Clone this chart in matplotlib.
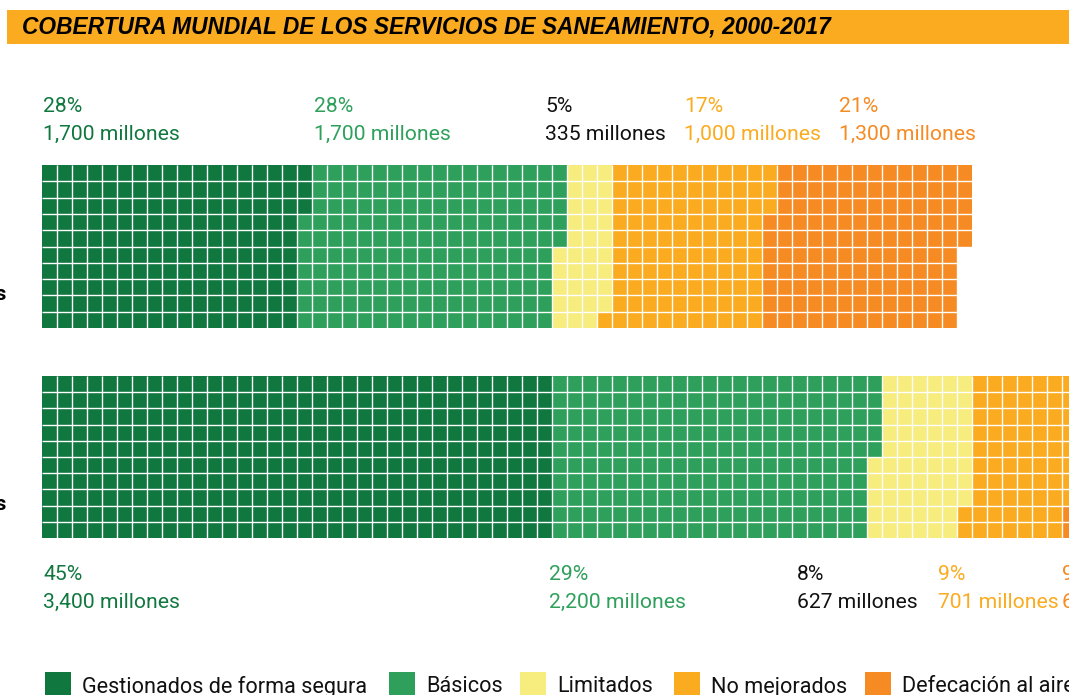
import matplotlib.pyplot as plt
from matplotlib.patches import Rectangle

# cada cuadro = 10 millones de personas
categorias = ['Gestionados de forma segura', 'Básicos', 'Limitados',
              'No mejorados', 'Defecación al aire libre']
colores = ['#10773f', '#2ea05b', '#f7ec7e', '#faab1f', '#f68a23']
colores_texto = ['#10773f', '#2ea05b', '#111111', '#faab1f', '#f68a23']

cuadros_2000 = [173, 172, 34, 104, 132]
cuadros_2017 = [340, 215, 63, 70, 67]

pct_2000 = ['28%', '28%', '5%', '17%', '21%']
pob_2000 = ['1,700 millones', '1,700 millones', '335 millones',
            '1,000 millones', '1,300 millones']
pct_2017 = ['45%', '29%', '8%', '9%', '9%']
pob_2017 = ['3,400 millones', '2,200 millones', '627 millones',
            '701 millones', '673 millones']

W, H = 1069, 695
CW = 15          # ancho de columna en px
X0 = 42          # borde izquierdo de la cuadrícula


def fx(x):
    return x / W


def fy(y):
    return 1 - y / H


def waffle(fig, top, bottom, cuadros):
    ax = fig.add_axes([0, fy(bottom), 1, (bottom - top) / H])
    ax.set_xlim(-X0 / CW, (W - X0) / CW)
    ax.set_ylim(10, 0)
    ax.axis('off')
    k = 0
    for n, c in zip(cuadros, colores):
        for i in range(n):
            col, fila = divmod(k, 10)
            ax.add_patch(Rectangle((col, fila), 1, 1, facecolor=c,
                                   edgecolor='none'))
            k += 1
    ncol = (k + 9) // 10
    ax.vlines(range(1, ncol), 0, 10, color='white', lw=1.0)
    ax.hlines(range(1, 10), 0, ncol, color='white', lw=1.0)
    return ax


fig = plt.figure(figsize=(W / 100, H / 100), dpi=100)

# barra del título
fig.patches.append(Rectangle((fx(7), fy(44)), 1, (44 - 10) / H,
                             transform=fig.transFigure, facecolor='#faab1f',
                             edgecolor='none'))
fig.text(fx(22), fy(27), 'COBERTURA MUNDIAL DE LOS SERVICIOS DE SANEAMIENTO, 2000-2017',
         family=['Liberation Sans Narrow', 'Liberation Sans'], weight='bold',
         style='italic', fontsize=16.4, va='center', ha='left', color='black')

waffle(fig, 165, 328, cuadros_2000)
waffle(fig, 376, 538, cuadros_2017)

# etiquetas cortadas a la izquierda
fig.text(fx(7), fy(294), 'personas', weight='bold', fontsize=15,
         ha='right', va='center', family='Roboto')
fig.text(fx(7), fy(504), 'personas', weight='bold', fontsize=15,
         ha='right', va='center', family='Roboto')

x_2000 = [43, 314, 545, 684, 839]
x_2017 = [43, 549, 797, 938, 1062]
fs = 15.2

for x, p, m, c in zip(x_2000, pct_2000, pob_2000, colores_texto):
    fig.text(fx(x), fy(107), p, color=c, fontsize=fs, family='Roboto',
             va='center', ha='left')
    fig.text(fx(x), fy(134), m, color=c, fontsize=fs, family='Roboto',
             va='center', ha='left')

for x, p, m, c in zip(x_2017, pct_2017, pob_2017, colores_texto):
    fig.text(fx(x), fy(574), p, color=c, fontsize=fs, family='Roboto',
             va='center', ha='left')
    fig.text(fx(x), fy(602), m, color=c, fontsize=fs, family='Roboto',
             va='center', ha='left')

# leyenda
x_ley = [45, 389, 520, 674, 865]
for x, cat, c in zip(x_ley, categorias, colores):
    fig.patches.append(Rectangle((fx(x), fy(698)), 26 / W, 26 / H,
                                 transform=fig.transFigure, facecolor=c,
                                 edgecolor='none'))
    fig.text(fx(x + 37), fy(687), cat, fontsize=15.6, family='Roboto',
             va='center', ha='left', color='#111111')

fig.savefig('out.png', dpi=100)
